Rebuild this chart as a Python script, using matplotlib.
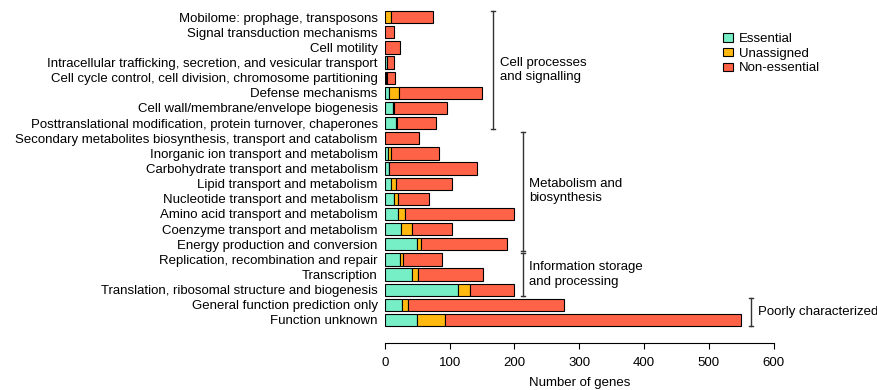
import numpy as np
import matplotlib
matplotlib.use("Agg")
import matplotlib.pyplot as plt

plt.rcParams['font.family'] = ['Liberation Sans', 'DejaVu Sans']

# ------------------------------------------------------------
# data (top to bottom as in the figure)
# ------------------------------------------------------------
categories = [
    "Mobilome: prophage, transposons",
    "Signal transduction mechanisms",
    "Cell motility",
    "Intracellular trafficking, secretion, and vesicular transport",
    "Cell cycle control, cell division, chromosome partitioning",
    "Defense mechanisms",
    "Cell wall/membrane/envelope biogenesis",
    "Posttranslational modification, protein turnover, chaperones",
    "Secondary metabolites biosynthesis, transport and catabolism",
    "Inorganic ion transport and metabolism",
    "Carbohydrate transport and metabolism",
    "Lipid transport and metabolism",
    "Nucleotide transport and metabolism",
    "Amino acid transport and metabolism",
    "Coenzyme transport and metabolism",
    "Energy production and conversion",
    "Replication, recombination and repair",
    "Transcription",
    "Translation, ribosomal structure and biogenesis",
    "General function prediction only",
    "Function unknown",
]
essential     = [0, 0, 0, 3, 2, 7, 12, 18, 0, 5, 6, 10, 14, 21, 25, 49, 24, 42, 113, 27, 49]
unassigned    = [9, 0, 0, 1, 1, 15, 2, 1, 0, 5, 1, 8, 6, 11, 17, 7, 4, 10, 18, 9, 44]
non_essential = [65, 15, 24, 11, 13, 128, 82, 60, 53, 74, 136, 85, 48, 168, 62, 132, 61, 99, 69, 241, 457]

# groups: (label, first index, last index)
groups = [
    ("Cell processes\nand signalling", 0, 7),
    ("Metabolism and\nbiosynthesis", 8, 15),
    ("Information storage\nand processing", 16, 18),
    ("Poorly characterized", 19, 20),
]
group_x = [167, 213, 213, 565]

xticks = [0, 100, 200, 300, 400, 500, 600]

COLORS = {'Essential': '#76EEC6', 'Unassigned': '#FFB90F', 'Non-essential': '#FF6347'}
FS = 9.5

# ------------------------------------------------------------
# plot
# ------------------------------------------------------------
n = len(categories)
y = np.arange(n)[::-1]  # first category at the top

fig = plt.figure(figsize=(8.77, 3.9), dpi=100)
ax = fig.add_axes([0.4387, 0.1205, 0.4436, 0.859])

ess = np.array(essential)
una = np.array(unassigned)
non = np.array(non_essential)

kw = dict(height=0.81, edgecolor='black', linewidth=0.8)
ax.barh(y, ess, color=COLORS['Essential'], label='Essential', **kw)
ax.barh(y, una, left=ess, color=COLORS['Unassigned'], label='Unassigned', **kw)
ax.barh(y, non, left=ess + una, color=COLORS['Non-essential'], label='Non-essential', **kw)

ax.set_ylim(-1.52, n - 1 + 0.6)
ax.set_xlim(0, 600)

ax.set_yticks(y)
ax.set_yticklabels(categories, fontsize=FS)
ax.tick_params(axis='y', length=0, pad=5)

ax.set_xticks(xticks)
ax.tick_params(axis='x', length=4.5, width=0.8, labelsize=FS, pad=5.5)
ax.set_xlabel('Number of genes', fontsize=FS, labelpad=6)

for s in ['top', 'right', 'left']:
    ax.spines[s].set_visible(False)
ax.spines['bottom'].set_bounds(0, 600)
ax.spines['bottom'].set_linewidth(0.8)

# group brackets
cap = 3.2
for (label, i0, i1), gx in zip(groups, group_x):
    ytop = y[i0] + 0.42
    ybot = y[i1] - 0.42
    ax.plot([gx, gx], [ybot, ytop], color='#333333', lw=1, clip_on=False)
    ax.plot([gx - cap, gx + cap], [ytop, ytop], color='#333333', lw=1, clip_on=False)
    ax.plot([gx - cap, gx + cap], [ybot, ybot], color='#333333', lw=1, clip_on=False)
    ax.text(gx + 10, (ytop + ybot) / 2, label, fontsize=FS, va='center', ha='left',
            linespacing=1.25, clip_on=False)

fig.legend(loc='upper left', bbox_to_anchor=(0.824, 0.915), frameon=False,
           fontsize=FS, handlelength=0.8, handleheight=0.6, handletextpad=0.45,
           labelspacing=0.2, borderpad=0, borderaxespad=0)

plt.savefig('out.png', dpi=100)
plt.close()
